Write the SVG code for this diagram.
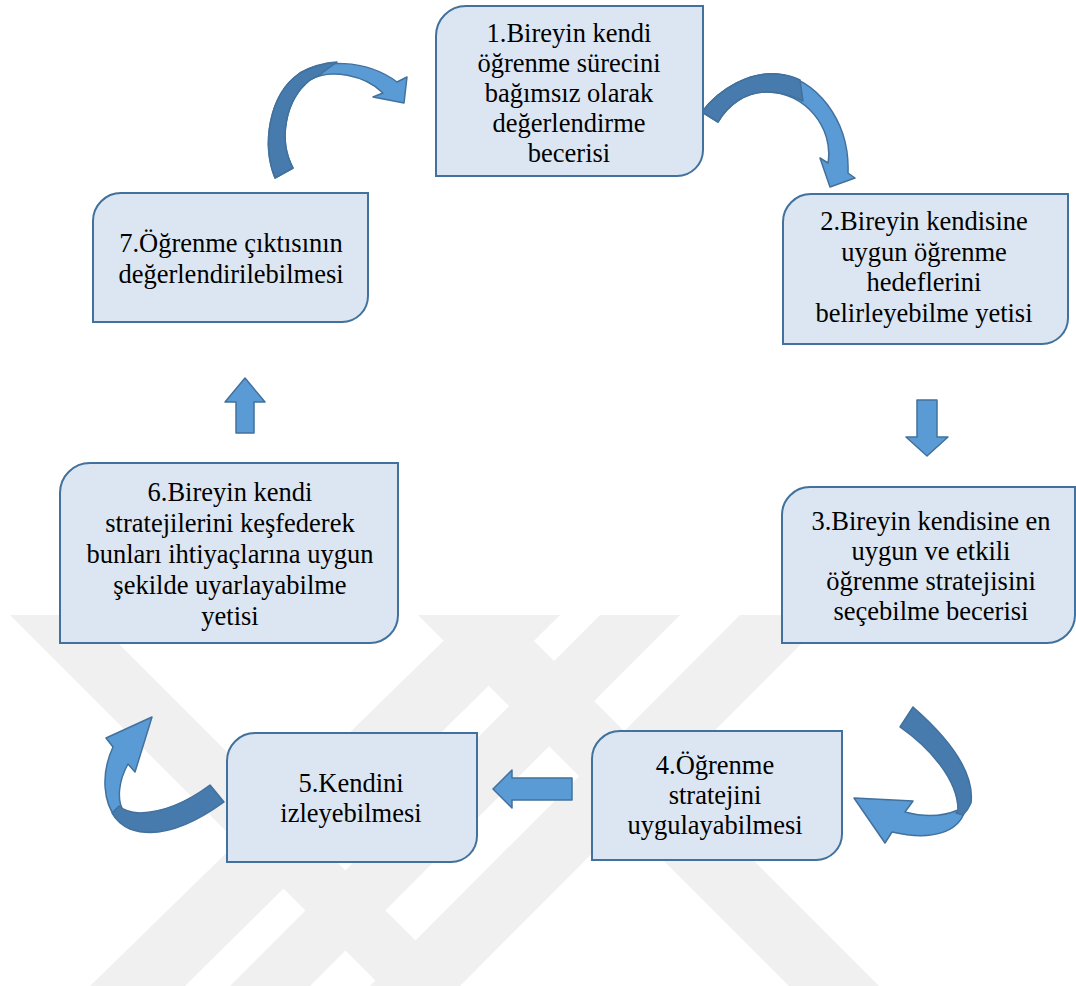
<svg xmlns="http://www.w3.org/2000/svg" width="1076" height="986" viewBox="0 0 1076 986">
  <style>
    .box { fill: #DCE6F2; stroke: #41719C; stroke-width: 2; }
    .txt { font-size: 26.5px; fill: #000; text-anchor: middle; }
    .lt { fill: #5B9BD5; stroke: #41719C; stroke-width: 1.5; stroke-linejoin: round; }
    .dk { fill: #477AAD; stroke: #41719C; stroke-width: 1.5; stroke-linejoin: round; }
    .wm { fill: #F0F0F0; }
  </style>
  <rect width="1076" height="986" fill="#FFFFFF"/>
  <g id="watermark">
    <polygon class="wm" points="10,615 90,615 461,986 381,986"/>
    <polygon class="wm" points="470,615 560,615 185,986 90,986"/>
    <polygon class="wm" points="600,615 680,615 310,986 230,986"/>
    <polygon class="wm" points="740,615 830,615 460,986 370,986"/>
    <polygon class="wm" points="418,615 508,615 879,986 789,986"/>
  </g>
  <g id="connectors">
    <path class="lt" d="M 275,178 C 262,145 268,95 300,73 C 320,60 365,58 397,82 L 407,77 L 404,103 L 373,97 L 383,93 C 365,75 330,68 310,80 C 285,100 278,140 293,168 Z"/>
    <path class="dk" d="M 275,178 C 262,145 268,95 300,73 Q 318,63 337,62 L 318,76 Q 313,78 310,80 C 285,100 278,140 293,168 Z"/>
    <path class="lt" d="M 702,112 C 720,88 750,72 777,74 C 815,77 850,120 848,173 L 855,178 L 830,187 L 820,158 L 828,163 C 834,128 805,92 767,92 C 745,92 728,105 718,122 Z"/>
    <path class="dk" d="M 702,112 C 720,88 750,72 777,74 Q 790,75 800,80 L 803,101 Q 785,92 767,92 C 745,92 728,105 718,122 Z"/>
    <path class="lt" d="M 917,400 H 937 V 437 H 948 L 927,456 L 906,437 H 917 Z"/>
    <path class="lt" d="M 964,813 C 958,830 935,842 892,832 L 885,843 L 854,798 L 913,801 L 905,812 Q 935,820 958,810 Z"/>
    <path class="dk" d="M 913,707 C 945,735 975,770 971,803 Q 968,810 963,815 L 956,813 Q 958,812 958,810 C 958,780 930,748 900,727 Z"/>
    <path class="lt" d="M 572,778 V 800 H 512 V 808 L 493,789 L 512,770 V 778 Z"/>
    <path class="lt" d="M 116,818 C 104,803 100,775 113,747 L 106,738 L 152,717 L 135,772 L 128,764 C 119,780 116,800 124,812 Z"/>
    <path class="dk" d="M 210,785 L 224,802 C 195,823 160,840 130,829 Q 118,824 112,813 L 119,806 Q 125,812 140,813 C 165,812 190,800 210,785 Z"/>
    <path class="lt" d="M 236,433 V 402 H 225 L 245,378 L 265,402 H 254 V 433 Z"/>
  </g>
  <g id="node1" font-family="Liberation Serif, DejaVu Serif, serif">
    <path class="box" d="M 466,6 H 703 V 150 A 26 26 0 0 1 677,176 H 436 V 36 A 30 30 0 0 1 466,6 Z"/>
    <text class="txt" x="569" y="42">1.Bireyin kendi</text>
    <text class="txt" x="569" y="72">öğrenme sürecini</text>
    <text class="txt" x="569" y="102">bağımsız olarak</text>
    <text class="txt" x="569" y="132">değerlendirme</text>
    <text class="txt" x="569" y="162">becerisi</text>
  </g>
  <g id="node2" font-family="Liberation Serif, DejaVu Serif, serif">
    <path class="box" d="M 811,194 H 1068 V 318 A 26 26 0 0 1 1042,344 H 783 V 222 A 28 28 0 0 1 811,194 Z"/>
    <text class="txt" x="924" y="230">2.Bireyin kendisine</text>
    <text class="txt" x="924" y="261">uygun öğrenme</text>
    <text class="txt" x="924" y="291">hedeflerini</text>
    <text class="txt" x="924" y="322">belirleyebilme yetisi</text>
  </g>
  <g id="node3" font-family="Liberation Serif, DejaVu Serif, serif">
    <path class="box" d="M 810,487 H 1075 V 615 A 28 28 0 0 1 1047,643 H 782 V 515 A 28 28 0 0 1 810,487 Z"/>
    <text class="txt" x="931" y="530">3.Bireyin kendisine en</text>
    <text class="txt" x="931" y="560">uygun ve etkili</text>
    <text class="txt" x="931" y="590">öğrenme stratejisini</text>
    <text class="txt" x="931" y="620">seçebilme becerisi</text>
  </g>
  <g id="node4" font-family="Liberation Serif, DejaVu Serif, serif">
    <path class="box" d="M 620,731 H 842 V 834 A 26 26 0 0 1 816,860 H 592 V 759 A 28 28 0 0 1 620,731 Z"/>
    <text class="txt" x="715" y="774">4.Öğrenme</text>
    <text class="txt" x="715" y="804">stratejini</text>
    <text class="txt" x="715" y="834">uygulayabilmesi</text>
  </g>
  <g id="node5" font-family="Liberation Serif, DejaVu Serif, serif">
    <path class="box" d="M 255,733 H 477 V 836 A 26 26 0 0 1 451,862 H 227 V 761 A 28 28 0 0 1 255,733 Z"/>
    <text class="txt" x="351" y="792">5.Kendini</text>
    <text class="txt" x="351" y="822">izleyebilmesi</text>
  </g>
  <g id="node6" font-family="Liberation Serif, DejaVu Serif, serif">
    <path class="box" d="M 90,463 H 398 V 615 A 28 28 0 0 1 370,643 H 60 V 493 A 30 30 0 0 1 90,463 Z"/>
    <text class="txt" x="230" y="501">6.Bireyin kendi</text>
    <text class="txt" x="230" y="532">stratejilerini keşfederek</text>
    <text class="txt" x="230" y="563">bunları ihtiyaçlarına uygun</text>
    <text class="txt" x="230" y="594">şekilde uyarlayabilme</text>
    <text class="txt" x="230" y="625">yetisi</text>
  </g>
  <g id="node7" font-family="Liberation Serif, DejaVu Serif, serif">
    <path class="box" d="M 121,193 H 368 V 296 A 26 26 0 0 1 342,322 H 93 V 221 A 28 28 0 0 1 121,193 Z"/>
    <text class="txt" x="231" y="252">7.Öğrenme çıktısının</text>
    <text class="txt" x="231" y="283">değerlendirilebilmesi</text>
  </g>
</svg>
